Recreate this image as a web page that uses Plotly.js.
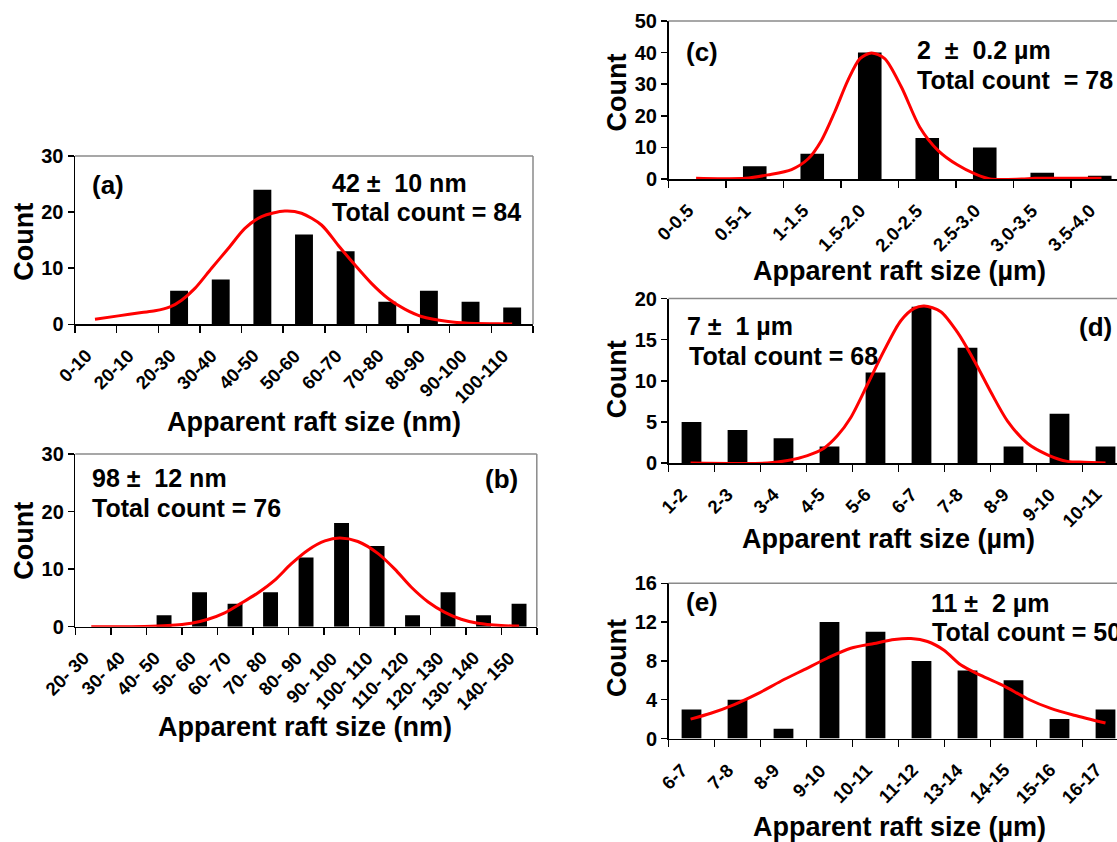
<!DOCTYPE html>
<html>
<head>
<meta charset="utf-8">
<script src="https://cdn.plot.ly/plotly-3.0.1.min.js"></script>
<style>
  html, body { margin: 0; padding: 0; background: #ffffff; }
  #chart { width: 1117px; height: 842px; }
</style>
</head>
<body>
<div id="chart"></div>
<script>
// ---------------- DATA ----------------
const catsA = ['0-10', '20-10', '20-30', '30-40', '40-50', '50-60', '60-70', '70-80', '80-90', '90-100', '100-110'];
const countsA = [0, 0, 6, 8, 24, 16, 13, 4, 6, 4, 3];
const fitXA = [-0.02, 0.54, 1.10, 1.42, 1.78, 2.06, 2.38, 2.78, 3.18, 3.58, 3.98, 4.54, 4.94, 5.42, 5.82, 6.22, 6.62, 7.02, 7.42, 7.82, 8.46, 8.94, 9.66, 10.0];
const fitYA = [0.9, 1.5, 2.1, 2.4, 3.1, 4.3, 6.4, 10.0, 13.5, 17.1, 19.2, 20.2, 19.8, 17.7, 14.1, 10.6, 7.3, 4.6, 2.7, 1.4, 0.5, 0.2, 0.1, 0.05];

const catsB = ['20- 30', '30- 40', '40- 50', '50- 60', '60- 70', '70- 80', '80- 90', '90- 100', '100- 110', '110- 120', '120- 130', '130- 140', '140- 150'];
const countsB = [0, 0, 2, 6, 4, 6, 12, 18, 14, 2, 6, 2, 4];
const fitXB = [-0.05, 1.45, 2.11, 2.77, 3.24, 3.71, 4.18, 4.65, 5.12, 5.58, 6.05, 6.53, 6.95, 7.46, 8.03, 8.50, 8.96, 9.44, 9.91, 10.37, 10.84, 11.50, 12.0];
const fitYB = [0.0, 0.05, 0.2, 0.6, 1.3, 2.4, 4.1, 5.9, 8.1, 10.9, 13.3, 14.9, 15.4, 14.8, 12.7, 10.0, 6.9, 4.3, 2.5, 1.3, 0.6, 0.2, 0.1];

const catsC = ['0-0.5', '0.5-1', '1-1.5', '1.5-2.0', '2.0-2.5', '2.5-3.0', '3.0-3.5', '3.5-4.0'];
const countsC = [0, 4, 8, 40, 13, 10, 2, 1];
const fitXC = [-0.02, 0.36, 0.83, 1.23, 1.64, 1.93, 2.16, 2.39, 2.62, 2.83, 3.03, 3.26, 3.55, 3.87, 4.19, 4.53, 4.83, 5.09, 5.64, 5.87, 6.45, 7.03];
const fitYC = [0.2, 0.1, 0.2, 1.3, 3.0, 6.4, 12.2, 21.2, 31.2, 38.1, 39.9, 38.1, 29.1, 16.4, 9.0, 4.4, 1.6, 0.0, 0.0, 0.2, 0.2, 0.2];

const catsD = ['1-2', '2-3', '3-4', '4-5', '5-6', '6-7', '7-8', '8-9', '9-10', '10-11'];
const countsD = [5, 4, 3, 2, 11, 19, 14, 2, 6, 2];
const fitXD = [-0.02, 1.65, 2.09, 2.52, 2.88, 3.17, 3.46, 3.83, 4.19, 4.55, 4.84, 5.06, 5.42, 5.78, 6.15, 6.51, 6.87, 7.30, 7.74, 8.17, 8.54, 9.0];
const fitYD = [0.0, 0.0, 0.3, 0.9, 1.8, 3.3, 5.5, 9.6, 13.7, 17.3, 18.8, 19.1, 18.4, 15.9, 12.4, 8.6, 5.1, 2.4, 1.0, 0.2, 0.1, 0.0];

const catsE = ['6-7', '7-8', '8-9', '9-10', '10-11', '11-12', '13-14', '14-15', '15-16', '16-17'];
const countsE = [3, 4, 1, 12, 11, 8, 7, 6, 2, 3];
const fitXE = [-0.02, 0.42, 0.93, 1.43, 1.94, 2.45, 2.96, 3.46, 3.97, 4.41, 4.77, 5.13, 5.49, 5.85, 6.29, 6.80, 7.30, 7.81, 8.32, 9.0];
const fitYE = [2.0, 2.6, 3.5, 4.6, 5.9, 7.1, 8.3, 9.3, 9.8, 10.2, 10.3, 10.0, 9.1, 7.6, 6.5, 5.4, 4.1, 3.1, 2.4, 1.6];

const labelsA = ['(a)', '42 \u00b1\u00a0 10 nm', 'Total count = 84'];
const labelsB = ['(b)', '98 \u00b1\u00a0 12 nm', 'Total count = 76'];
const labelsC = ['(c)', '2\u00a0 \u00b1\u00a0 0.2 \u00b5m', 'Total count\u00a0 = 78'];
const labelsD = ['(d)', '7 \u00b1\u00a0 1 \u00b5m', 'Total count = 68'];
const labelsE = ['(e)', '11 \u00b1\u00a0 2 \u00b5m', 'Total count = 50'];
const xTitleNm = 'Apparent raft size (nm)';
const xTitleUm = 'Apparent raft size (\u00b5m)';
const yTitle = 'Count';

// ---------------- STYLE / LAYOUT ----------------
const W = 1117, H = 842;
const FONT = 'Liberation Sans, Arial, Helvetica, sans-serif';
const px = x => x / W;
const py = y => 1 - y / H;
const LBL_DX = 0;    // px shift of rotated category labels
const LBL_DY = 21;   // px below the axis line
const LBL_SIZE = 18.5;

const panels = [
  {cats: catsA, counts: countsA, fx: fitXA, fy: fitYA, x0: 75, x1: 533, y0: 156, y1: 324.3, yr: [0, 30], dt: 10, bw: 0.43, span: catsA.length},
  {cats: catsB, counts: countsB, fx: fitXB, fy: fitYB, x0: 75.3, x1: 536.8, y0: 454, y1: 626.7, yr: [0, 30], dt: 10, bw: 0.42, span: catsB.length},
  {cats: catsC, counts: countsC, fx: fitXC, fy: fitYC, x0: 668.5, x1: 1117, y0: 21, y1: 179, yr: [0, 50], dt: 10, bw: 0.41, span: 448.5 / 57.5},
  {cats: catsD, counts: countsD, fx: fitXD, fy: fitYD, x0: 668.5, x1: 1117, y0: 298.5, y1: 463, yr: [0, 20], dt: 5, bw: 0.43, span: 448.5 / 46},
  {cats: catsE, counts: countsE, fx: fitXE, fy: fitYE, x0: 668.5, x1: 1117, y0: 583.3, y1: 738.5, yr: [0, 16], dt: 4, bw: 0.43, span: 448.5 / 46}
];

const data = [];
const layout = {
  width: W, height: H,
  margin: {l: 0, r: 0, t: 0, b: 0},
  paper_bgcolor: '#ffffff', plot_bgcolor: '#ffffff',
  showlegend: false,
  font: {family: FONT, color: '#000000'},
  annotations: [], shapes: []
};

panels.forEach((p, i) => {
  const n = i + 1;
  const xa = n === 1 ? 'x' : 'x' + n;
  const ya = n === 1 ? 'y' : 'y' + n;
  const xo = 'x' + (n + 5);
  const range = [-0.5, -0.5 + p.span];

  data.push({
    type: 'bar', x: p.cats, y: p.counts, xaxis: xa, yaxis: ya,
    width: p.bw, marker: {color: '#000000', line: {width: 0}}, hoverinfo: 'x+y'
  });
  data.push({
    type: 'scatter', mode: 'lines', x: p.fx, y: p.fy, xaxis: xo, yaxis: ya,
    line: {color: '#ff0000', width: 3, shape: 'spline', smoothing: 0.8}, hoverinfo: 'skip'
  });

  const xKey = n === 1 ? 'xaxis' : 'xaxis' + n;
  const yKey = n === 1 ? 'yaxis' : 'yaxis' + n;
  layout[xKey] = {
    type: 'category', domain: [px(p.x0), px(p.x1)], anchor: ya, range: range,
    showline: true, linecolor: '#000000', linewidth: 1.5,
    ticks: 'outside', tickson: 'boundaries', ticklen: 7, tickwidth: 1.5, tickcolor: '#000000',
    showticklabels: false,
    showgrid: false, zeroline: false, fixedrange: true, automargin: false
  };
  layout['xaxis' + (n + 5)] = {
    overlaying: xa, range: range, visible: false, fixedrange: true, type: 'linear'
  };
  layout[yKey] = {
    domain: [py(p.y1), py(p.y0)], anchor: xa, range: p.yr, dtick: p.dt, tick0: 0,
    showline: true, linecolor: '#000000', linewidth: 1.5,
    ticks: 'outside', ticklen: 6, tickwidth: 1.5, tickcolor: '#000000',
    tickfont: {family: FONT, size: 20, color: '#000000', weight: 'bold'},
    showgrid: false, zeroline: false, fixedrange: true, automargin: false
  };

  // rotated category labels, placed on the category axis
  p.cats.forEach((c, k) => {
    layout.annotations.push({
      text: c, xref: xa, yref: 'paper', x: k, y: py(p.y1 + LBL_DY),
      xanchor: 'right', yanchor: 'top', xshift: LBL_DX, textangle: -45,
      showarrow: false, borderpad: 0, borderwidth: 0,
      font: {family: FONT, size: LBL_SIZE, color: '#000000', weight: 'bold'}
    });
  });

  // grey plot-area frame (top, and right when visible)
  layout.shapes.push({type: 'line', xref: 'paper', yref: 'paper',
    x0: px(p.x0), x1: px(p.x1), y0: py(p.y0), y1: py(p.y0),
    line: {color: '#8a8a8a', width: 1.5}});
  if (p.x1 < W - 1) {
    layout.shapes.push({type: 'line', xref: 'paper', yref: 'paper',
      x0: px(p.x1), x1: px(p.x1), y0: py(p.y0), y1: py(p.y1),
      line: {color: '#8a8a8a', width: 1.5}});
  }
});

function note(text, x, y, size, anchor, angle) {
  layout.annotations.push({
    text: text, xref: 'paper', yref: 'paper', x: px(x), y: py(y),
    xanchor: anchor || 'left', yanchor: 'middle', showarrow: false,
    textangle: angle || 0,
    font: {family: FONT, size: size, color: '#000000', weight: 'bold'}
  });
}

// panel labels and statistics
note(labelsA[0], 90, 185, 26); note(labelsA[1], 330, 183.3, 25); note(labelsA[2], 330, 211.7, 25);
note(labelsB[0], 483, 479.3, 26); note(labelsB[1], 90, 478.3, 25); note(labelsB[2], 90, 508.3, 25);
note(labelsC[0], 683.5, 52.3, 26); note(labelsC[1], 915, 50, 25); note(labelsC[2], 915, 80, 25);
note(labelsD[0], 1077, 326.7, 26); note(labelsD[1], 685, 325.7, 25); note(labelsD[2], 686.5, 356, 25);
note(labelsE[0], 683.5, 601.7, 26); note(labelsE[1], 928.5, 602.7, 25); note(labelsE[2], 930, 631.7, 25);

// axis titles
note(xTitleNm, 314, 421.7, 27, 'center');
note(xTitleNm, 305.4, 726.7, 27, 'center');
note(xTitleUm, 899, 270.5, 27, 'center');
note(xTitleUm, 888.8, 538.5, 27, 'center');
note(xTitleUm, 899, 826.5, 27, 'center');
note(yTitle, 24, 241.7, 27, 'center', -90);
note(yTitle, 24, 540.7, 27, 'center', -90);
note(yTitle, 617, 92.6, 27, 'center', -90);
note(yTitle, 617, 379.3, 27, 'center', -90);
note(yTitle, 617, 658, 27, 'center', -90);

Plotly.newPlot('chart', data, layout, {staticPlot: true, displayModeBar: false});
</script>
</body>
</html>
